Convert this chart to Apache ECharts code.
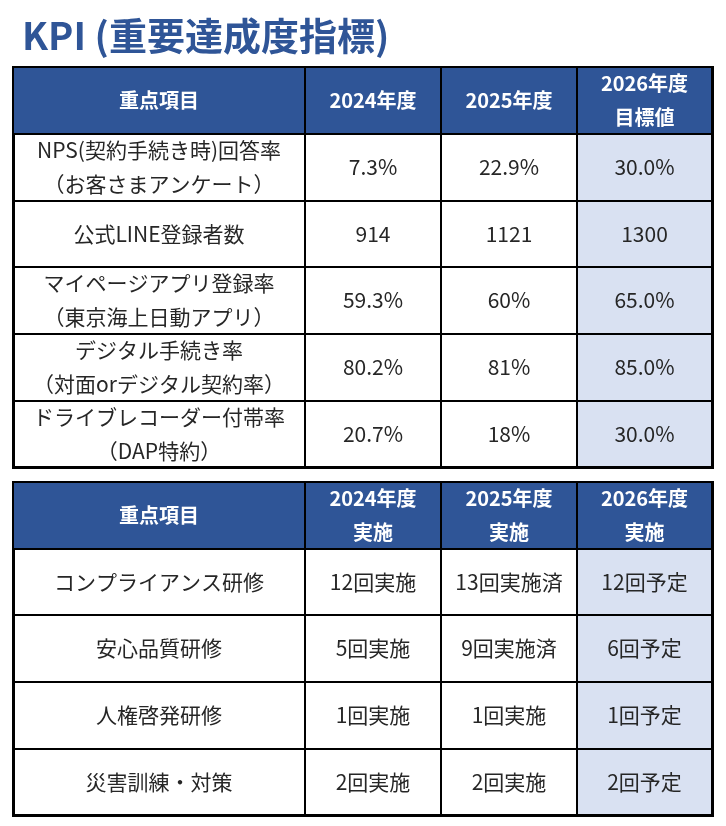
<!DOCTYPE html>
<html><head><meta charset="utf-8">
<script src="https://cdn.jsdelivr.net/npm/echarts@6/dist/echarts.min.js"></script>
<style>html,body{margin:0;padding:0;background:#fff}#c{width:726px;height:826px}</style>
</head><body><div id="c"></div>
<script>
// ---- data ----
const titleText = 'KPI (重要達成度指標)';
const kpiHeaders = ['重点項目', '2024年度', '2025年度', '2026年度\n目標値'];
const kpiItems = [
  'NPS(契約手続き時)回答率\n（お客さまアンケート）',
  '公式LINE登録者数',
  'マイページアプリ登録率\n（東京海上日動アプリ）',
  'デジタル手続き率\n（対面orデジタル契約率）',
  'ドライブレコーダー付帯率\n（DAP特約）'
];
const kpi2024 = ['7.3%', '914', '59.3%', '80.2%', '20.7%'];
const kpi2025 = ['22.9%', '1121', '60%', '81%', '18%'];
const kpi2026Target = ['30.0%', '1300', '65.0%', '85.0%', '30.0%'];

const trainHeaders = ['重点項目', '2024年度\n実施', '2025年度\n実施', '2026年度\n実施'];
const trainItems = ['コンプライアンス研修', '安心品質研修', '人権啓発研修', '災害訓練・対策'];
const train2024 = ['12回実施', '5回実施', '1回実施', '2回実施'];
const train2025 = ['13回実施済', '9回実施済', '1回実施', '2回実施'];
const train2026 = ['12回予定', '6回予定', '1回予定', '2回予定'];

// ---- style ----
const HEADER = '#2F5597';
const LIGHT = '#D9E1F2';
const TEXT = '#262626';
const FONT = '"Noto Sans CJK JP", "Noto Sans", sans-serif';
const colKeys = ['item', 'y1', 'y2', 'y3'];
const colWidths = [292, 136, 136, 135];

function buildCells(headers, columns) {
  const cells = [];
  headers.forEach((h, c) => cells.push({
    coord: [colKeys[c], 'r0'], value: h,
    itemStyle: { color: HEADER },
    label: { color: '#fff', fontWeight: 'bold', fontSize: 20 }
  }));
  columns.forEach((col, c) => col.forEach((v, r) => {
    const cell = { coord: [colKeys[c], 'r' + (r + 1)], value: v };
    if (c === 3) cell.itemStyle = { color: LIGHT };
    cells.push(cell);
  }));
  return cells;
}

function buildMatrix(top, height, headers, columns) {
  const rows = columns[0].length + 1;
  return {
    left: 13, top: top, width: 699, height: height,
    x: { show: false, data: colKeys.map((k, i) => ({ value: k, size: colWidths[i] })) },
    y: { show: false, data: Array.from({ length: rows }, (_, i) => 'r' + i) },
    body: {
      data: buildCells(headers, columns),
      itemStyle: { color: '#fff', borderColor: '#000', borderWidth: 2 },
      label: {
        color: TEXT, fontSize: 21, fontFamily: FONT, lineHeight: 34,
        overflow: 'none', lineOverflow: 'none'
      }
    },
    backgroundStyle: { color: '#fff', borderColor: '#000', borderWidth: 3 }
  };
}

const chart = echarts.init(document.getElementById('c'), null, { renderer: 'canvas' });
chart.setOption({
  backgroundColor: '#fff',
  title: {
    text: titleText, left: 17, top: 12,
    textStyle: { color: HEADER, fontSize: 38, fontWeight: 'bold', fontFamily: FONT }
  },
  matrix: [
    buildMatrix(67, 400, kpiHeaders, [kpiItems, kpi2024, kpi2025, kpi2026Target]),
    buildMatrix(482, 333, trainHeaders, [trainItems, train2024, train2025, train2026])
  ]
});
</script>
</body></html>
